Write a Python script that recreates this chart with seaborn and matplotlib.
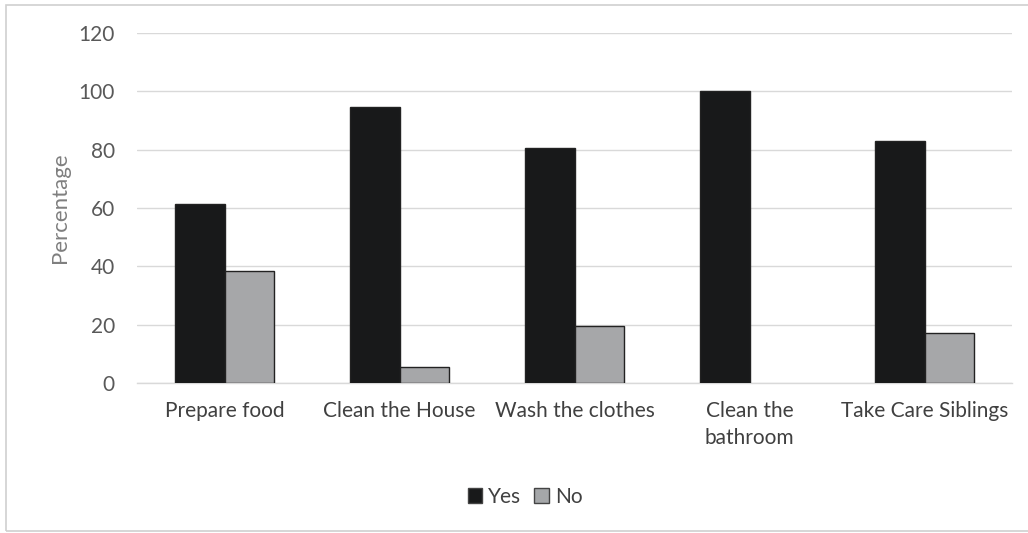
import numpy as np
import pandas as pd
import matplotlib.pyplot as plt
import seaborn as sns
from matplotlib.patches import Rectangle, Patch

plt.switch_backend("Agg")

categories = ["Prepare food", "Clean the House", "Wash the clothes",
              "Clean the\nbathroom", "Take Care Siblings"]
yes_values = [61.5, 94.5, 80.5, 100.0, 83.0]
no_values = [38.5, 5.5, 19.5, 0.0, 17.0]
series = ["Yes", "No"]
y_ticks = [0, 20, 40, 60, 80, 100, 120]

df = pd.DataFrame({
    "Task": categories * 2,
    "Answer": ["Yes"] * len(categories) + ["No"] * len(categories),
    "Percentage": yes_values + no_values,
})

sns.set_style("white")
plt.rcParams["font.family"] = ["Lato", "DejaVu Sans"]

colors = {"Yes": "#18191a", "No": "#a5a7a9"}

fig = plt.figure(figsize=(10.28, 5.33), dpi=100)
ax = fig.add_axes([137 / 1028, 1 - 383 / 533, 875 / 1028, 350 / 533])

sns.barplot(data=df, x="Task", y="Percentage", hue="Answer",
            hue_order=series, palette=colors, width=0.57,
            edgecolor="#222222", linewidth=1.0, ax=ax, legend=False,
            zorder=3)

# zero-height bars should not leave a visible outline
for p in ax.patches:
    if p.get_height() == 0:
        p.set_linewidth(0)

ax.set_ylim(0, 120)
ax.set_yticks(y_ticks)
ax.set_xlim(-0.5, len(categories) - 0.5)
ax.yaxis.grid(True, color="#d9d9d9", linewidth=1.0, zorder=0)
ax.set_axisbelow(True)
for s in ["top", "right", "left"]:
    ax.spines[s].set_visible(False)
ax.spines["bottom"].set_color("#d9d9d9")
ax.spines["bottom"].set_linewidth(1.0)
ax.tick_params(axis="y", length=0, labelsize=15, labelcolor="#595959", pad=16)
ax.tick_params(axis="x", length=0, labelsize=15, labelcolor="#404040", pad=13)
for lbl in ax.get_xticklabels():
    lbl.set_linespacing(1.45)
ax.set_xlabel("")
ax.set_ylabel("Percentage", fontsize=16, color="#7f7f7f", labelpad=6)

handles = [Patch(facecolor=colors[s], edgecolor="#444444", label=s) for s in series]
fig.legend(handles=handles, loc="center", bbox_to_anchor=(525 / 1028, 1 - 497 / 533),
           ncol=2, frameon=False, fontsize=15, handlelength=0.7, handleheight=0.7,
           handletextpad=0.3, columnspacing=0.6, labelcolor="#404040")

# light frame around the chart area
fig.patches.append(Rectangle((6 / 1028, 2 / 533), 1.1, 1 - 7 / 533,
                             transform=fig.transFigure, fill=False,
                             edgecolor="#d0d0d0", linewidth=1.2))

fig.savefig("out.png", dpi=100)
plt.close(fig)
